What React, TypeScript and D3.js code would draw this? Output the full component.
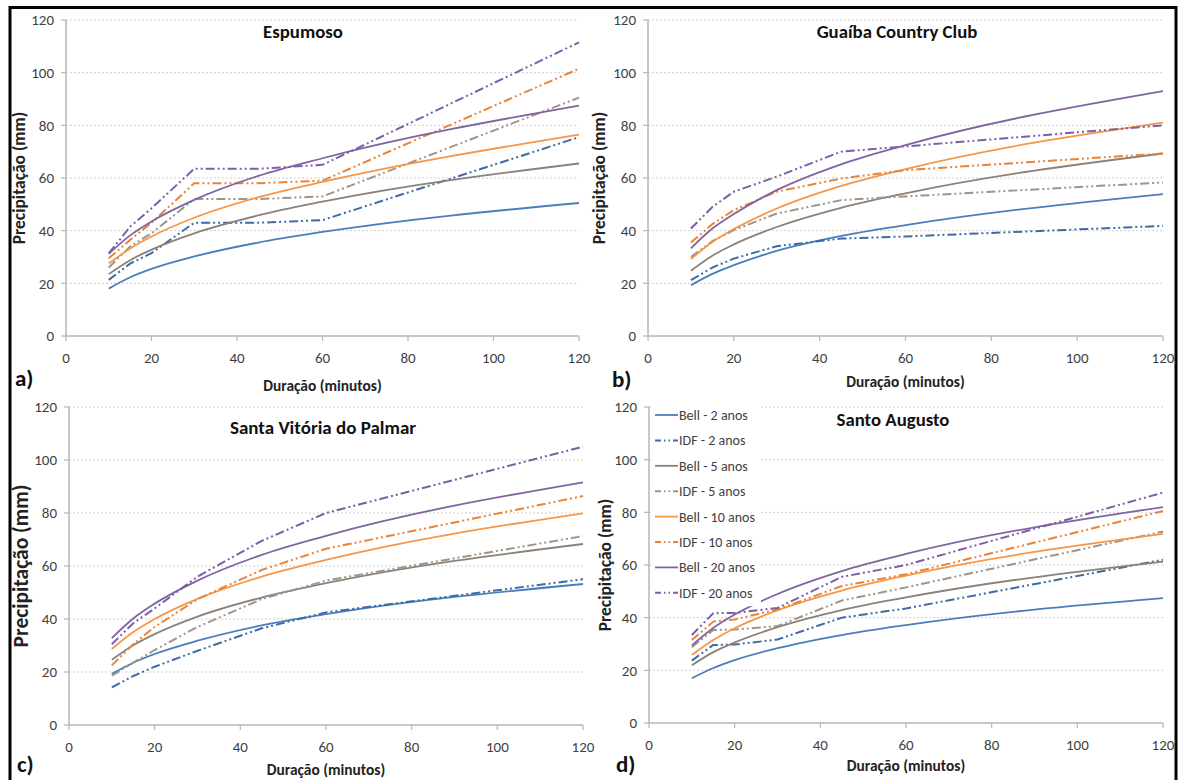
import React from 'react';
import * as d3 from 'd3';

// durações (minutos) usadas em todas as estações
const durations = [10, 15, 20, 30, 45, 60, 120];

const seriesLabels = [
  'Bell - 2 anos', 'IDF - 2 anos',
  'Bell - 5 anos', 'IDF - 5 anos',
  'Bell - 10 anos', 'IDF - 10 anos',
  'Bell - 20 anos', 'IDF - 20 anos',
];
const seriesColors = [
  '#4a7ebb', '#3b6ba8',
  '#8c8077', '#9d958b',
  '#f79646', '#e8843a',
  '#8064a2', '#7c5ea9',
];

const xTicks = [0, 20, 40, 60, 80, 100, 120];
const yTicks = [0, 20, 40, 60, 80, 100, 120];

// ordem: Bell 2, IDF 2, Bell 5, IDF 5, Bell 10, IDF 10, Bell 20, IDF 20
const espumoso = [
  [18, 22.3, 25.5, 30.2, 35.5, 39.5, 50.5],
  [21.3, 27.5, 31.5, 43, 43, 44, 75.5],
  [23.5, 28.8, 32.8, 39, 45.8, 51, 65.5],
  [26, 34, 39, 52, 52, 53, 90.5],
  [27.5, 33.2, 37.8, 44.9, 52.7, 58.5, 76.5],
  [29.5, 36.5, 43, 58, 58, 59, 101.5],
  [31.2, 38.2, 43.5, 51.7, 60.8, 67.5, 87.5],
  [31.4, 41.5, 48.5, 63.5, 63.5, 65, 111.5],
];

const guaiba = [
  [19.3, 23.6, 26.9, 32.3, 38, 42.1, 53.9],
  [21.2, 26, 29.4, 34.1, 37, 37.8, 41.8],
  [24.8, 30.5, 34.8, 41.4, 48.7, 54.2, 69.3],
  [30, 36, 40.2, 46.5, 51.6, 53, 58.3],
  [29.2, 35.7, 40.6, 48.4, 57, 63.4, 81],
  [35.5, 42.5, 47.8, 54.8, 59.8, 63, 69.3],
  [33.3, 40.8, 46.3, 55.4, 65.2, 72.5, 93],
  [40.8, 49, 54.8, 60.5, 70, 72, 80],
];

const santaVitoria = [
  [19.3, 23.5, 26.8, 31.8, 37.6, 41.8, 53.2],
  [14.2, 18.5, 22, 28, 36.5, 42.5, 55],
  [24.6, 30.1, 34.3, 40.9, 48.1, 53.5, 68.3],
  [18.6, 23.5, 28.3, 37, 47.5, 54.5, 71.3],
  [28.7, 35.1, 40, 47.6, 56, 62.3, 79.9],
  [22.5, 30.5, 37, 47.5, 58.5, 66.5, 86.4],
  [32.8, 40.2, 45.8, 54.5, 64.2, 71.4, 91.6],
  [30.5, 38.4, 44, 56, 69.5, 80, 105],
];

const santoAugusto = [
  [17, 20.9, 23.9, 28.4, 33.4, 37.2, 47.4],
  [23.7, 29.6, 29.8, 31.7, 40, 43.5, 62],
  [21.9, 26.9, 30.6, 36.4, 42.9, 47.7, 61.3],
  [28.8, 35.3, 35.5, 36.8, 46.5, 51.5, 72.7],
  [25.8, 31.5, 36, 42.8, 50.3, 56, 71.8],
  [31.5, 38.5, 39.3, 43.1, 52, 56.5, 80.5],
  [29.5, 36.1, 41.2, 49, 57.7, 64.2, 82],
  [33.4, 41.7, 41.8, 43.7, 55.5, 60, 87.5],
];

const font = "Carlito, 'Liberation Sans', Arial, sans-serif";
const idfDash = '9 3 2 3 2 3';

const panels = [
  {
    title: 'Espumoso', tag: 'a)', values: espumoso,
    x0: 66, x1: 579, yBottom: 336, yTop: 20,
    titleX: 303, titleY: 38, titleSize: 18.8,
    yTitleX: 25, yTitleSize: 17.5, xTitleY: 391,
    tagX: 15, tagY: 386, legend: false,
  },
  {
    title: 'Guaíba Country Club', tag: 'b)', values: guaiba,
    x0: 648, x1: 1163, yBottom: 336, yTop: 20,
    titleX: 897, titleY: 38, titleSize: 18.8,
    yTitleX: 605, yTitleSize: 17.5, xTitleY: 387,
    tagX: 612, tagY: 387, legend: false,
  },
  {
    title: 'Santa Vitória do Palmar', tag: 'c)', values: santaVitoria,
    x0: 69, x1: 583, yBottom: 725, yTop: 407,
    titleX: 323, titleY: 434, titleSize: 19,
    yTitleX: 28, yTitleSize: 21.5, xTitleY: 775,
    tagX: 17, tagY: 772, legend: false,
  },
  {
    title: 'Santo Augusto', tag: 'd)', values: santoAugusto,
    x0: 649, x1: 1163, yBottom: 723, yTop: 407,
    titleX: 893, titleY: 426, titleSize: 18.8,
    yTitleX: 611, yTitleSize: 17.5, xTitleY: 771,
    tagX: 616, tagY: 772, legend: true,
  },
];

const Panel = ({ p }) => {
  const xScale = d3.scaleLinear().domain([0, 120]).range([p.x0, p.x1]);
  const yScale = d3.scaleLinear().domain([0, 120]).range([p.yBottom, p.yTop]);
  const axisColor = '#bdb6aa';
  const tickColor = '#3f3f3f';

  const legendTop = 415;
  const legendStep = 25.4;

  return (
    <g>
      {/* grade */}
      {yTicks.filter((t) => t > 0).map((t) => (
        <line key={'g' + t} x1={p.x0} x2={p.x1} y1={yScale(t)} y2={yScale(t)}
          stroke="#cfcfcf" strokeWidth={1} strokeDasharray="2 2" />
      ))}

      {/* linhas */}
      {p.values.map((vals, i) => {
        const isBell = i % 2 === 0;
        const line = d3.line()
          .x((d) => xScale(d[0]))
          .y((d) => yScale(d[1]))
          .curve(isBell ? d3.curveMonotoneX : d3.curveLinear);
        const pts = durations.map((d, j) => [d, vals[j]]);
        return (
          <path key={'s' + i} d={line(pts)} fill="none"
            stroke={seriesColors[i]} strokeWidth={isBell ? 1.8 : 2}
            strokeDasharray={isBell ? undefined : idfDash} />
        );
      })}

      {/* eixos */}
      <line x1={p.x0} x2={p.x0} y1={p.yTop} y2={p.yBottom} stroke={axisColor} strokeWidth={1.5} />
      <line x1={p.x0} x2={p.x1} y1={p.yBottom} y2={p.yBottom} stroke={axisColor} strokeWidth={1.5} />
      {yTicks.map((t) => (
        <g key={'y' + t}>
          <line x1={p.x0 - 5} x2={p.x0} y1={yScale(t)} y2={yScale(t)} stroke={axisColor} strokeWidth={1.2} />
          <text x={p.x0 - 12} y={yScale(t)} dy="0.35em" textAnchor="end"
            fontSize={15} fill={tickColor} fontFamily={font}>{t}</text>
        </g>
      ))}
      {xTicks.map((t) => (
        <g key={'x' + t}>
          <line x1={xScale(t)} x2={xScale(t)} y1={p.yBottom} y2={p.yBottom + 5} stroke={axisColor} strokeWidth={1.2} />
          <text x={xScale(t)} y={p.yBottom + 27} textAnchor="middle"
            fontSize={15} fill={tickColor} fontFamily={font}>{t}</text>
        </g>
      ))}

      {/* títulos */}
      <text x={p.titleX} y={p.titleY} textAnchor="middle" fontWeight="bold"
        fontSize={p.titleSize} fill="#111" fontFamily={font}>{p.title}</text>
      <text x={(p.x0 + p.x1) / 2} y={p.xTitleY} textAnchor="middle" fontWeight="bold"
        fontSize={15.4} fill="#222" fontFamily={font}>Duração (minutos)</text>
      <text transform={`translate(${p.yTitleX}, ${(p.yTop + p.yBottom) / 2}) rotate(-90)`}
        textAnchor="middle" fontWeight="bold" fontSize={p.yTitleSize} fill="#222"
        fontFamily={font}>Precipitação (mm)</text>
      <text x={p.tagX} y={p.tagY} fontWeight="bold" fontSize={23} fill="#111"
        fontFamily={font}>{p.tag}</text>

      {/* legenda */}
      {p.legend && (
        <g>
          <rect x={p.x0 + 2} y={legendTop - 12} width={110} height={legendStep * 8}
            fill="#fff" />
          {seriesLabels.map((s, i) => {
            const y = legendTop + i * legendStep;
            const isBell = i % 2 === 0;
            return (
              <g key={'l' + i}>
                <line x1={p.x0 + 6} x2={p.x0 + 29} y1={y} y2={y}
                  stroke={seriesColors[i]} strokeWidth={isBell ? 1.8 : 2}
                  strokeDasharray={isBell ? undefined : '6 3 1.5 3 1.5 3'} />
                <text x={p.x0 + 30} y={y} dy="0.35em" fontSize={14}
                  fill={tickColor} fontFamily={font}>{s}</text>
              </g>
            );
          })}
        </g>
      )}
    </g>
  );
};

const App = () => (
  <svg width={1182} height={780} viewBox="0 0 1182 780"
    style={{ position: 'absolute', left: 0, top: 0, background: '#fff' }}>
    <rect x={0} y={0} width={1182} height={780} fill="#fff" />
    {panels.map((p) => <Panel key={p.tag} p={p} />)}
    <rect x={10} y={7.5} width={1166} height={800} fill="none" stroke="#000" strokeWidth={3} />
  </svg>
);

export default App;
